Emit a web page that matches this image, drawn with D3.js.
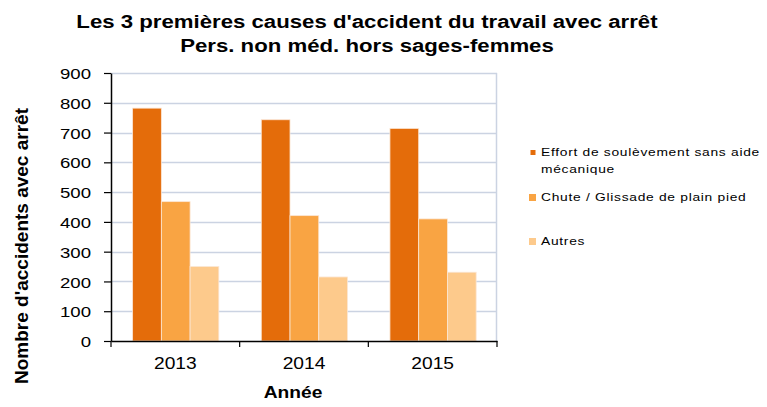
<!DOCTYPE html>
<html lang="fr">
  <head>
    <meta charset="UTF-8">
    <title>Causes d'accident du travail</title>
    <style>
      html, body {
        margin: 0;
        padding: 0;
        background: #fff;
      }

      text {
        font-family: Arial, 'Liberation Sans', sans-serif;
        fill: #000;
      }

      .title {
        font-size: 18.5px;
        font-weight: bold;
        text-anchor: middle;
      }

      .axis-title {
        font-size: 16px;
        font-weight: bold;
        text-anchor: middle;
      }

      .y-title {
        font-size: 19px;
      }

      .y.axis text {
        font-size: 15.5px;
      }

      .x.axis text {
        font-size: 16px;
      }

      .legend text {
        font-size: 11.5px;
        letter-spacing: 0.6px;
      }
    </style>
  </head>
  <body>
    <svg width="767" height="407"></svg>
    <script src="https://cdn.jsdelivr.net/npm/d3@7/dist/d3.min.js"></script>
    <script>

      // données
      const years = ['2013', '2014', '2015']
      const causes = [
        'Effort de soulèvement sans aide mécanique',
        'Chute / Glissade de plain pied',
        'Autres'
      ]
      const effort = [782, 743, 714]
      const chute = [468, 421, 410]
      const autres = [250, 215, 231]
      const yTicks = [0, 100, 200, 300, 400, 500, 600, 700, 800, 900]

      const colors = ['#e46c0a', '#f9a443', '#fdca8c']
      const series = [effort, chute, autres]

      // le graphique d'origine est étiré horizontalement
      const K = 1.2
      function stretch (sel) {
        sel.each(function () {
          const t = d3.select(this)
          const x = +t.attr('x') || 0
          t.attr('x', x / K).attr('transform', 'scale(' + K + ',1)')
          t.selectAll('tspan').each(function () {
            const s = d3.select(this)
            if (s.attr('x') !== null) s.attr('x', +s.attr('x') / K)
          })
        })
      }

      const svg = d3.select('svg')

      const margin = { top: 73, left: 111, right: 270, bottom: 66 },
        width = 767 - margin.left - margin.right,
        height = 407 - margin.top - margin.bottom

      const g = svg.append('g')
        .attr('transform', 'translate(' + margin.left + ',' + margin.top + ')')

      const x0 = d3.scaleBand()
        .domain(years)
        .range([0, width])

      // le groupe de barres occupe ~67% de la catégorie
      const x1 = d3.scaleBand()
        .domain(d3.range(causes.length))
        .range([x0.bandwidth() * 0.168, x0.bandwidth() * 0.838])

      const y = d3.scaleLinear()
        .domain([0, 900])
        .range([height, 0])

      // grille horizontale
      g.append('g')
        .selectAll('line')
        .data(yTicks.slice(1))
        .enter().append('line')
        .attr('x1', 0)
        .attr('x2', width)
        .attr('y1', d => Math.round(y(d)) + 0.5)
        .attr('y2', d => Math.round(y(d)) + 0.5)
        .attr('stroke', '#cbd3e2')
        .attr('stroke-width', 1.5)

      // bord droit du cadre
      g.append('line')
        .attr('x1', width - 0.5)
        .attr('x2', width - 0.5)
        .attr('y1', 0)
        .attr('y2', height)
        .attr('stroke', '#cbd3e2')
        .attr('stroke-width', 1.5)

      // barres
      const groups = g.selectAll('.year')
        .data(years)
        .enter().append('g')
        .attr('class', 'year')
        .attr('transform', d => 'translate(' + x0(d) + ',0)')

      groups.selectAll('rect')
        .data((d, i) => series.map((s, k) => ({ k: k, v: s[i] })))
        .enter().append('rect')
        .attr('x', d => x1(d.k))
        .attr('width', x1.bandwidth())
        .attr('y', d => y(d.v))
        .attr('height', d => height - y(d.v))
        .attr('fill', d => colors[d.k])
        .attr('stroke', '#fbe6d4')
        .attr('stroke-width', 0.8)

      // axe Y
      const yAxis = g.append('g')
        .attr('class', 'y axis')
        .call(d3.axisLeft(y).tickValues(yTicks).tickSize(7).tickPadding(13).tickSizeOuter(0))
      yAxis.select('.domain').attr('stroke', '#000').attr('stroke-width', 1.5)
      yAxis.selectAll('.tick line').attr('stroke', '#000').attr('stroke-width', 1.2)
      yAxis.selectAll('text').attr('fill', '#222').attr('dy', '0.36em')
      stretch(yAxis.selectAll('text'))

      // axe X
      const xAxis = g.append('g')
        .attr('class', 'x axis')
        .attr('transform', 'translate(0,' + height + ')')
        .call(d3.axisBottom(x0).tickSize(0).tickPadding(17))
      xAxis.select('.domain').attr('stroke', '#000').attr('stroke-width', 1.5)
      xAxis.selectAll('text').attr('fill', '#222').attr('dy', '0.71em')
      stretch(xAxis.selectAll('text'))

      // graduations entre les catégories
      xAxis.selectAll('.sep')
        .data(d3.range(years.length + 1))
        .enter().append('line')
        .attr('class', 'sep')
        .attr('x1', i => i * x0.step())
        .attr('x2', i => i * x0.step())
        .attr('y1', 0)
        .attr('y2', 6)
        .attr('stroke', '#000')
        .attr('stroke-width', 1.2)

      // titres
      svg.append('text')
        .attr('class', 'title')
        .attr('x', 367)
        .attr('y', 28)
        .text('Les 3 premières causes d\'accident du travail avec arrêt')
        .call(stretch)

      svg.append('text')
        .attr('class', 'title')
        .attr('x', 367)
        .attr('y', 52)
        .text('Pers. non méd.  hors sages-femmes')
        .call(stretch)

      svg.append('text')
        .attr('class', 'axis-title')
        .attr('x', 293)
        .attr('y', 398)
        .text('Année')
        .call(stretch)

      svg.append('text')
        .attr('class', 'axis-title y-title')
        .attr('transform', 'translate(28,246) rotate(-90)')
        .text('Nombre d\'accidents avec arrêt')

      // légende
      const legendY = [156, 201, 245]
      const legend = svg.append('g')
        .attr('class', 'legend')
        .attr('transform', 'translate(529,0)')

      const item = legend.selectAll('g')
        .data(causes)
        .enter().append('g')
        .attr('transform', (d, i) => 'translate(0,' + legendY[i] + ')')

      item.append('rect')
        .attr('x', (d, i) => i === 0 ? 1.5 : 0)
        .attr('y', (d, i) => i === 0 ? -6 : -7)
        .attr('width', (d, i) => i === 0 ? 5 : 7)
        .attr('height', (d, i) => i === 0 ? 5 : 7)
        .attr('fill', (d, i) => colors[i])

      item.append('text')
        .attr('x', 12)
        .attr('y', 0)
        .each(function (d) {
          const t = d3.select(this)
          if (d.startsWith('Effort')) {
            t.append('tspan').attr('x', 12).text('Effort de soulèvement sans aide')
            t.append('tspan').attr('x', 12).attr('dy', 16.7).text('mécanique')
          } else {
            t.text(d)
          }
        })
        .call(stretch)

    </script>
  </body>
</html>
